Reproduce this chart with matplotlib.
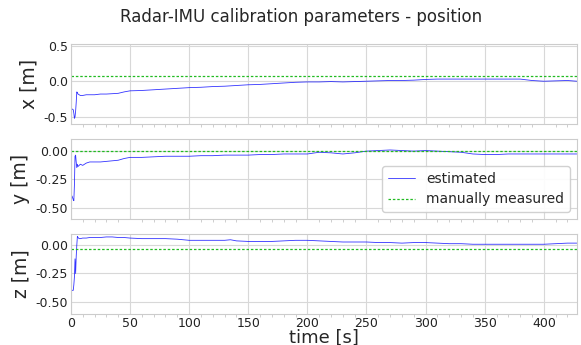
import numpy as np
import matplotlib
matplotlib.use("Agg")
import matplotlib.pyplot as plt
from matplotlib.ticker import MultipleLocator, FormatStrFormatter

# time stamps [s] and estimated calibration values [m]
t = [0, 1, 2, 2.5, 3, 3.5, 4, 4.5, 5, 5.5, 6, 7, 8, 10, 13, 16, 20, 25, 30, 35,
     40, 45, 50, 60, 70, 80, 90, 100, 110, 120, 130, 135, 140, 150, 160, 170,
     180, 190, 200, 210, 220, 230, 240, 250, 260, 270, 280, 290, 300, 310, 320,
     330, 340, 350, 360, 370, 380, 390, 400, 410, 420, 428]

x_est = [-0.39, -0.39, -0.40, -0.45, -0.52, -0.50, -0.42, -0.30, -0.15, -0.16,
         -0.18, -0.19, -0.20, -0.20, -0.19, -0.19, -0.19, -0.18, -0.18, -0.175,
         -0.17, -0.15, -0.135, -0.13, -0.12, -0.11, -0.10, -0.09, -0.085,
         -0.075, -0.07, -0.065, -0.06, -0.05, -0.045, -0.035, -0.025, -0.015,
         -0.01, -0.01, -0.005, -0.01, -0.005, 0.0, 0.005, 0.01, 0.01, 0.015,
         0.025, 0.03, 0.03, 0.03, 0.03, 0.03, 0.03, 0.03, 0.03, 0.01, 0.0,
         0.005, 0.01, 0.0]

y_est = [-0.39, -0.40, -0.43, -0.44, -0.30, -0.05, -0.04, -0.10, -0.15, -0.12,
         -0.14, -0.13, -0.12, -0.13, -0.11, -0.10, -0.10, -0.10, -0.095, -0.09,
         -0.085, -0.07, -0.06, -0.06, -0.055, -0.05, -0.05, -0.05, -0.045,
         -0.045, -0.04, -0.04, -0.04, -0.04, -0.035, -0.035, -0.03, -0.03,
         -0.03, -0.015, -0.02, -0.03, -0.02, -0.005, 0.0, 0.005, 0.0, -0.005,
         0.0, -0.005, -0.01, -0.015, -0.03, -0.035, -0.035, -0.03, -0.03,
         -0.03, -0.03, -0.03, -0.03, -0.03]

z_est = [-0.39, -0.40, -0.40, -0.35, -0.28, -0.12, -0.25, -0.10, 0.0, 0.08,
         0.07, 0.06, 0.06, 0.065, 0.065, 0.07, 0.07, 0.07, 0.075, 0.075, 0.07,
         0.07, 0.065, 0.06, 0.06, 0.06, 0.055, 0.045, 0.045, 0.045, 0.045,
         0.05, 0.04, 0.035, 0.035, 0.035, 0.04, 0.045, 0.045, 0.04, 0.035, 0.03,
         0.03, 0.03, 0.025, 0.025, 0.02, 0.025, 0.025, 0.02, 0.015, 0.015, 0.01,
         0.01, 0.01, 0.01, 0.01, 0.01, 0.01, 0.015, 0.02, 0.02]

# manually measured values [m]
x_meas = 0.08
y_meas = -0.005
z_meas = -0.035

plt.style.use("seaborn-v0_8-whitegrid")
plt.rcParams["font.family"] = "DejaVu Sans"

fig, axes = plt.subplots(3, 1, figsize=(5.81, 3.45), dpi=100, sharex=True)
fig.subplots_adjust(left=0.122, right=0.993, top=0.872, bottom=0.09, hspace=0.19)

est = [x_est, y_est, z_est]
meas = [x_meas, y_meas, z_meas]
labels = ["x [m]", "y [m]", "z [m]"]
ylims = [(-0.6, 0.52), (-0.6, 0.1), (-0.61, 0.1)]
yticks = [[-0.5, 0.0, 0.5], [-0.5, -0.25, 0.0], [-0.5, -0.25, 0.0]]

for ax, e, m, lab, yl, yt in zip(axes, est, meas, labels, ylims, yticks):
    ax.plot(t, e, color="blue", linewidth=0.6, alpha=0.8, label="estimated")
    ax.axhline(m, color="#22bb22", linestyle="--", linewidth=0.9,
               dashes=(2, 1.5), label="manually measured")
    ax.set_ylabel(lab, fontsize=13.5)
    ax.set_ylim(*yl)
    ax.set_yticks(yt)
    ax.set_xlim(0, 428)
    ax.xaxis.set_major_locator(MultipleLocator(50))
    ax.xaxis.set_minor_locator(MultipleLocator(10))
    ax.tick_params(axis="both", labelsize=9, colors="#222222", pad=2)
    ax.tick_params(axis="x", which="minor", bottom=True, length=2,
                   width=0.5, color="#bbbbbb")
    for s in ax.spines.values():
        s.set_color("#cccccc")
        s.set_linewidth(0.8)
    ax.grid(color="#d8d8d8", linewidth=0.8)

axes[0].yaxis.set_major_formatter(FormatStrFormatter("%.1f"))
for ax in axes[1:]:
    ax.yaxis.set_major_formatter(FormatStrFormatter("%.2f"))

axes[1].legend(loc="lower right", fontsize=10, frameon=True, framealpha=0.9,
               borderaxespad=0.5)
axes[2].set_xlabel("time [s]", fontsize=13, labelpad=-1)
fig.suptitle("Radar-IMU calibration parameters - position", fontsize=12,
             x=0.519, y=0.95, va="center")

fig.savefig("out.png", dpi=100)
